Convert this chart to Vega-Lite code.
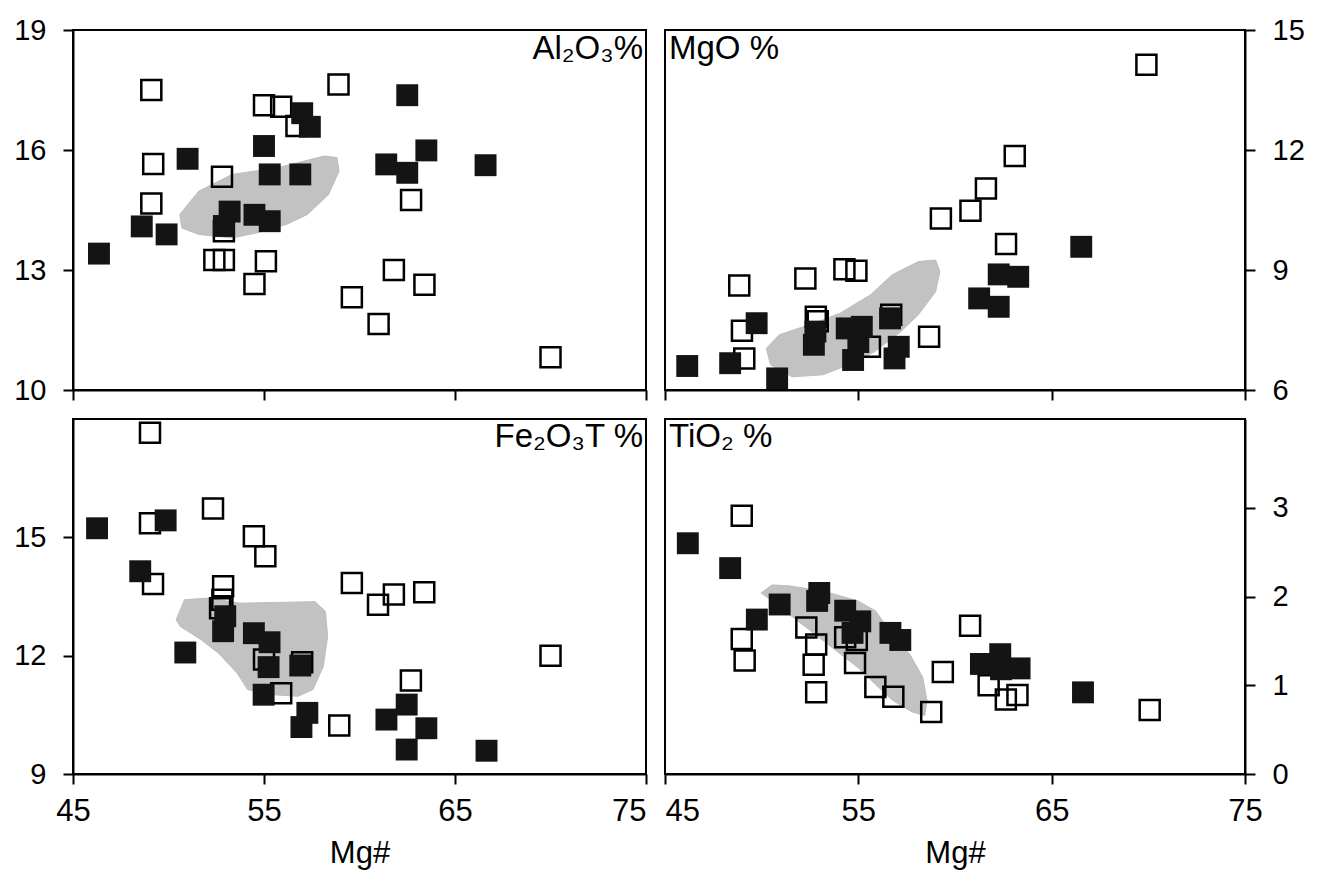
{
  "$schema": "https://vega.github.io/schema/vega-lite/v6.json",
  "background": "white",
  "padding": {"left": 12, "top": 15, "right": 5, "bottom": 5},
  "datasets": {
    "labels": [
      {"panel": "Al", "label": "Al₂O₃%"},
      {"panel": "Mg", "label": "MgO %"},
      {"panel": "Fe", "label": "Fe₂O₃T %"},
      {"panel": "Ti", "label": "TiO₂ %"}
    ],
    "pts": [
      {"panel": "Al", "type": "open", "mg": 49.1, "val": 17.5},
      {"panel": "Al", "type": "open", "mg": 49.2, "val": 15.65},
      {"panel": "Al", "type": "open", "mg": 49.1, "val": 14.66},
      {"panel": "Al", "type": "open", "mg": 52.8, "val": 15.33},
      {"panel": "Al", "type": "open", "mg": 52.9, "val": 13.97},
      {"panel": "Al", "type": "open", "mg": 52.4, "val": 13.25},
      {"panel": "Al", "type": "open", "mg": 52.9, "val": 13.25},
      {"panel": "Al", "type": "open", "mg": 55.1, "val": 13.22},
      {"panel": "Al", "type": "open", "mg": 54.5, "val": 12.65},
      {"panel": "Al", "type": "open", "mg": 55.0, "val": 17.12},
      {"panel": "Al", "type": "open", "mg": 55.9, "val": 17.08},
      {"panel": "Al", "type": "open", "mg": 56.7, "val": 16.6},
      {"panel": "Al", "type": "open", "mg": 58.9, "val": 17.64},
      {"panel": "Al", "type": "open", "mg": 62.7, "val": 14.75},
      {"panel": "Al", "type": "open", "mg": 61.8, "val": 13.0},
      {"panel": "Al", "type": "open", "mg": 63.4, "val": 12.63},
      {"panel": "Al", "type": "open", "mg": 59.6, "val": 12.32},
      {"panel": "Al", "type": "open", "mg": 61.0, "val": 11.65},
      {"panel": "Al", "type": "open", "mg": 70.0, "val": 10.82},
      {"panel": "Al", "type": "filled", "mg": 46.36, "val": 13.41},
      {"panel": "Al", "type": "filled", "mg": 48.6, "val": 14.09},
      {"panel": "Al", "type": "filled", "mg": 49.9, "val": 13.89},
      {"panel": "Al", "type": "filled", "mg": 51.0, "val": 15.78},
      {"panel": "Al", "type": "filled", "mg": 55.0, "val": 16.1},
      {"panel": "Al", "type": "filled", "mg": 55.3, "val": 15.39},
      {"panel": "Al", "type": "filled", "mg": 56.9, "val": 15.39},
      {"panel": "Al", "type": "filled", "mg": 57.0, "val": 16.92},
      {"panel": "Al", "type": "filled", "mg": 57.4, "val": 16.58},
      {"panel": "Al", "type": "filled", "mg": 53.2, "val": 14.46},
      {"panel": "Al", "type": "filled", "mg": 52.9, "val": 14.1},
      {"panel": "Al", "type": "filled", "mg": 54.5, "val": 14.38},
      {"panel": "Al", "type": "filled", "mg": 55.3, "val": 14.22},
      {"panel": "Al", "type": "filled", "mg": 62.5, "val": 17.37},
      {"panel": "Al", "type": "filled", "mg": 61.4, "val": 15.64},
      {"panel": "Al", "type": "filled", "mg": 62.5, "val": 15.43},
      {"panel": "Al", "type": "filled", "mg": 63.5, "val": 15.99},
      {"panel": "Al", "type": "filled", "mg": 66.6, "val": 15.62},

      {"panel": "Mg", "type": "open", "mg": 69.9, "val": 14.13},
      {"panel": "Mg", "type": "open", "mg": 63.09, "val": 11.85},
      {"panel": "Mg", "type": "open", "mg": 61.6, "val": 11.04},
      {"panel": "Mg", "type": "open", "mg": 60.8, "val": 10.48},
      {"panel": "Mg", "type": "open", "mg": 59.27, "val": 10.29},
      {"panel": "Mg", "type": "open", "mg": 62.64, "val": 9.65},
      {"panel": "Mg", "type": "open", "mg": 54.28, "val": 9.02},
      {"panel": "Mg", "type": "open", "mg": 54.9, "val": 8.98},
      {"panel": "Mg", "type": "open", "mg": 52.26, "val": 8.79},
      {"panel": "Mg", "type": "open", "mg": 48.84, "val": 8.61},
      {"panel": "Mg", "type": "open", "mg": 48.98, "val": 7.48},
      {"panel": "Mg", "type": "open", "mg": 49.1, "val": 6.79},
      {"panel": "Mg", "type": "open", "mg": 52.8, "val": 7.83},
      {"panel": "Mg", "type": "open", "mg": 52.9, "val": 7.72},
      {"panel": "Mg", "type": "open", "mg": 56.7, "val": 7.88},
      {"panel": "Mg", "type": "open", "mg": 58.66, "val": 7.33},
      {"panel": "Mg", "type": "open", "mg": 55.6, "val": 7.08},
      {"panel": "Mg", "type": "filled", "mg": 46.15, "val": 6.6},
      {"panel": "Mg", "type": "filled", "mg": 48.37, "val": 6.67},
      {"panel": "Mg", "type": "filled", "mg": 50.8, "val": 6.29},
      {"panel": "Mg", "type": "filled", "mg": 49.74, "val": 7.67},
      {"panel": "Mg", "type": "filled", "mg": 52.78, "val": 7.46},
      {"panel": "Mg", "type": "filled", "mg": 52.7, "val": 7.13},
      {"panel": "Mg", "type": "filled", "mg": 54.4, "val": 7.54},
      {"panel": "Mg", "type": "filled", "mg": 55.18, "val": 7.58},
      {"panel": "Mg", "type": "filled", "mg": 54.73, "val": 6.75},
      {"panel": "Mg", "type": "filled", "mg": 55.0, "val": 7.2},
      {"panel": "Mg", "type": "filled", "mg": 56.64, "val": 7.79},
      {"panel": "Mg", "type": "filled", "mg": 57.09, "val": 7.08},
      {"panel": "Mg", "type": "filled", "mg": 56.87, "val": 6.79},
      {"panel": "Mg", "type": "filled", "mg": 61.25, "val": 8.29},
      {"panel": "Mg", "type": "filled", "mg": 62.26, "val": 8.08},
      {"panel": "Mg", "type": "filled", "mg": 62.26, "val": 8.89},
      {"panel": "Mg", "type": "filled", "mg": 63.27, "val": 8.83},
      {"panel": "Mg", "type": "filled", "mg": 66.53, "val": 9.58},

      {"panel": "Fe", "type": "open", "mg": 49.03, "val": 17.65},
      {"panel": "Fe", "type": "open", "mg": 52.33, "val": 15.73},
      {"panel": "Fe", "type": "open", "mg": 49.03, "val": 15.36},
      {"panel": "Fe", "type": "open", "mg": 54.47, "val": 15.03},
      {"panel": "Fe", "type": "open", "mg": 55.07, "val": 14.52},
      {"panel": "Fe", "type": "open", "mg": 49.19, "val": 13.82},
      {"panel": "Fe", "type": "open", "mg": 52.86, "val": 13.76},
      {"panel": "Fe", "type": "open", "mg": 52.82, "val": 13.42},
      {"panel": "Fe", "type": "open", "mg": 52.7, "val": 13.2},
      {"panel": "Fe", "type": "open", "mg": 59.6, "val": 13.84},
      {"panel": "Fe", "type": "open", "mg": 61.8, "val": 13.55},
      {"panel": "Fe", "type": "open", "mg": 60.97, "val": 13.29},
      {"panel": "Fe", "type": "open", "mg": 63.39, "val": 13.61},
      {"panel": "Fe", "type": "open", "mg": 70.0, "val": 12.0},
      {"panel": "Fe", "type": "open", "mg": 62.69, "val": 11.37},
      {"panel": "Fe", "type": "open", "mg": 58.94, "val": 10.23},
      {"panel": "Fe", "type": "open", "mg": 55.9, "val": 11.05},
      {"panel": "Fe", "type": "open", "mg": 57.0, "val": 11.83},
      {"panel": "Fe", "type": "open", "mg": 55.0, "val": 11.9},
      {"panel": "Fe", "type": "filled", "mg": 46.26, "val": 15.23},
      {"panel": "Fe", "type": "filled", "mg": 49.85, "val": 15.43},
      {"panel": "Fe", "type": "filled", "mg": 48.52, "val": 14.14},
      {"panel": "Fe", "type": "filled", "mg": 50.88, "val": 12.08},
      {"panel": "Fe", "type": "filled", "mg": 52.97, "val": 13.0},
      {"panel": "Fe", "type": "filled", "mg": 52.86, "val": 12.62},
      {"panel": "Fe", "type": "filled", "mg": 54.47, "val": 12.57},
      {"panel": "Fe", "type": "filled", "mg": 55.29, "val": 12.34},
      {"panel": "Fe", "type": "filled", "mg": 55.24, "val": 11.71},
      {"panel": "Fe", "type": "filled", "mg": 54.98, "val": 11.01},
      {"panel": "Fe", "type": "filled", "mg": 56.9, "val": 11.75},
      {"panel": "Fe", "type": "filled", "mg": 57.27, "val": 10.55},
      {"panel": "Fe", "type": "filled", "mg": 56.96, "val": 10.19},
      {"panel": "Fe", "type": "filled", "mg": 61.41, "val": 10.38},
      {"panel": "Fe", "type": "filled", "mg": 62.47, "val": 10.76},
      {"panel": "Fe", "type": "filled", "mg": 63.5, "val": 10.16},
      {"panel": "Fe", "type": "filled", "mg": 62.47, "val": 9.62},
      {"panel": "Fe", "type": "filled", "mg": 66.65, "val": 9.59},

      {"panel": "Ti", "type": "open", "mg": 48.97, "val": 2.91},
      {"panel": "Ti", "type": "open", "mg": 48.97, "val": 1.52},
      {"panel": "Ti", "type": "open", "mg": 49.12, "val": 1.28},
      {"panel": "Ti", "type": "open", "mg": 52.31, "val": 1.65},
      {"panel": "Ti", "type": "open", "mg": 52.82, "val": 1.46},
      {"panel": "Ti", "type": "open", "mg": 52.69, "val": 1.23},
      {"panel": "Ti", "type": "open", "mg": 52.82, "val": 0.92},
      {"panel": "Ti", "type": "open", "mg": 54.32, "val": 1.54},
      {"panel": "Ti", "type": "open", "mg": 54.92, "val": 1.51},
      {"panel": "Ti", "type": "open", "mg": 54.83, "val": 1.25},
      {"panel": "Ti", "type": "open", "mg": 55.88, "val": 0.98},
      {"panel": "Ti", "type": "open", "mg": 56.81, "val": 0.87},
      {"panel": "Ti", "type": "open", "mg": 58.77, "val": 0.7},
      {"panel": "Ti", "type": "open", "mg": 59.37, "val": 1.15},
      {"panel": "Ti", "type": "open", "mg": 60.78, "val": 1.67},
      {"panel": "Ti", "type": "open", "mg": 61.74, "val": 1.0},
      {"panel": "Ti", "type": "open", "mg": 62.63, "val": 0.84},
      {"panel": "Ti", "type": "open", "mg": 63.23, "val": 0.89},
      {"panel": "Ti", "type": "open", "mg": 70.07, "val": 0.72},
      {"panel": "Ti", "type": "filled", "mg": 46.18, "val": 2.6},
      {"panel": "Ti", "type": "filled", "mg": 48.37, "val": 2.32},
      {"panel": "Ti", "type": "filled", "mg": 49.75, "val": 1.74},
      {"panel": "Ti", "type": "filled", "mg": 50.93, "val": 1.91},
      {"panel": "Ti", "type": "filled", "mg": 52.87, "val": 1.95},
      {"panel": "Ti", "type": "filled", "mg": 52.98, "val": 2.04},
      {"panel": "Ti", "type": "filled", "mg": 54.32, "val": 1.84},
      {"panel": "Ti", "type": "filled", "mg": 55.1, "val": 1.72},
      {"panel": "Ti", "type": "filled", "mg": 54.7, "val": 1.59},
      {"panel": "Ti", "type": "filled", "mg": 56.66, "val": 1.59},
      {"panel": "Ti", "type": "filled", "mg": 57.17, "val": 1.51},
      {"panel": "Ti", "type": "filled", "mg": 61.34, "val": 1.24},
      {"panel": "Ti", "type": "filled", "mg": 62.34, "val": 1.35},
      {"panel": "Ti", "type": "filled", "mg": 62.38, "val": 1.18},
      {"panel": "Ti", "type": "filled", "mg": 63.34, "val": 1.19},
      {"panel": "Ti", "type": "filled", "mg": 66.62, "val": 0.92}
    ],
    "blob": [
      {"panel": "Al", "i": 0, "mg": 50.59, "val": 14.39},
      {"panel": "Al", "i": 1, "mg": 51.58, "val": 14.97},
      {"panel": "Al", "i": 2, "mg": 53.33, "val": 15.39},
      {"panel": "Al", "i": 3, "mg": 55.75, "val": 15.56},
      {"panel": "Al", "i": 4, "mg": 58.16, "val": 15.85},
      {"panel": "Al", "i": 5, "mg": 58.82, "val": 15.81},
      {"panel": "Al", "i": 6, "mg": 58.93, "val": 15.47},
      {"panel": "Al", "i": 7, "mg": 58.38, "val": 14.89},
      {"panel": "Al", "i": 8, "mg": 57.28, "val": 14.39},
      {"panel": "Al", "i": 9, "mg": 56.18, "val": 14.14},
      {"panel": "Al", "i": 10, "mg": 54.65, "val": 13.93},
      {"panel": "Al", "i": 11, "mg": 53.33, "val": 13.8},
      {"panel": "Al", "i": 12, "mg": 51.58, "val": 13.89},
      {"panel": "Al", "i": 13, "mg": 50.7, "val": 14.05},

      {"panel": "Mg", "i": 0, "mg": 50.24, "val": 7.04},
      {"panel": "Mg", "i": 1, "mg": 50.91, "val": 7.38},
      {"panel": "Mg", "i": 2, "mg": 52.71, "val": 7.67},
      {"panel": "Mg", "i": 3, "mg": 54.06, "val": 7.92},
      {"panel": "Mg", "i": 4, "mg": 55.63, "val": 8.38},
      {"panel": "Mg", "i": 5, "mg": 56.75, "val": 8.88},
      {"panel": "Mg", "i": 6, "mg": 58.1, "val": 9.21},
      {"panel": "Mg", "i": 7, "mg": 59.0, "val": 9.25},
      {"panel": "Mg", "i": 8, "mg": 59.22, "val": 8.96},
      {"panel": "Mg", "i": 9, "mg": 59.0, "val": 8.46},
      {"panel": "Mg", "i": 10, "mg": 58.1, "val": 7.88},
      {"panel": "Mg", "i": 11, "mg": 57.2, "val": 7.46},
      {"panel": "Mg", "i": 12, "mg": 55.85, "val": 6.96},
      {"panel": "Mg", "i": 13, "mg": 54.51, "val": 6.63},
      {"panel": "Mg", "i": 14, "mg": 53.16, "val": 6.38},
      {"panel": "Mg", "i": 15, "mg": 51.58, "val": 6.33},
      {"panel": "Mg", "i": 16, "mg": 50.46, "val": 6.63},

      {"panel": "Fe", "i": 0, "mg": 50.4, "val": 12.91},
      {"panel": "Fe", "i": 1, "mg": 50.84, "val": 13.42},
      {"panel": "Fe", "i": 2, "mg": 52.16, "val": 13.46},
      {"panel": "Fe", "i": 3, "mg": 53.7, "val": 13.33},
      {"panel": "Fe", "i": 4, "mg": 57.67, "val": 13.37},
      {"panel": "Fe", "i": 5, "mg": 58.22, "val": 13.12},
      {"panel": "Fe", "i": 6, "mg": 58.33, "val": 12.49},
      {"panel": "Fe", "i": 7, "mg": 58.11, "val": 11.73},
      {"panel": "Fe", "i": 8, "mg": 57.56, "val": 11.14},
      {"panel": "Fe", "i": 9, "mg": 56.78, "val": 10.97},
      {"panel": "Fe", "i": 10, "mg": 55.46, "val": 11.01},
      {"panel": "Fe", "i": 11, "mg": 54.14, "val": 11.14},
      {"panel": "Fe", "i": 12, "mg": 53.59, "val": 11.56},
      {"panel": "Fe", "i": 13, "mg": 52.6, "val": 12.07},
      {"panel": "Fe", "i": 14, "mg": 51.72, "val": 12.4},
      {"panel": "Fe", "i": 15, "mg": 50.62, "val": 12.74},

      {"panel": "Ti", "i": 0, "mg": 49.97, "val": 2.04},
      {"panel": "Ti", "i": 1, "mg": 50.53, "val": 2.13},
      {"panel": "Ti", "i": 2, "mg": 51.42, "val": 2.12},
      {"panel": "Ti", "i": 3, "mg": 53.2, "val": 2.06},
      {"panel": "Ti", "i": 4, "mg": 54.98, "val": 1.95},
      {"panel": "Ti", "i": 5, "mg": 55.88, "val": 1.84},
      {"panel": "Ti", "i": 6, "mg": 56.77, "val": 1.57},
      {"panel": "Ti", "i": 7, "mg": 57.66, "val": 1.35},
      {"panel": "Ti", "i": 8, "mg": 58.33, "val": 1.09},
      {"panel": "Ti", "i": 9, "mg": 58.55, "val": 0.83},
      {"panel": "Ti", "i": 10, "mg": 58.44, "val": 0.66},
      {"panel": "Ti", "i": 11, "mg": 57.77, "val": 0.7},
      {"panel": "Ti", "i": 12, "mg": 56.77, "val": 0.83},
      {"panel": "Ti", "i": 13, "mg": 55.88, "val": 1.01},
      {"panel": "Ti", "i": 14, "mg": 54.98, "val": 1.2},
      {"panel": "Ti", "i": 15, "mg": 54.09, "val": 1.35},
      {"panel": "Ti", "i": 16, "mg": 53.2, "val": 1.5},
      {"panel": "Ti", "i": 17, "mg": 52.31, "val": 1.65},
      {"panel": "Ti", "i": 18, "mg": 51.42, "val": 1.8},
      {"panel": "Ti", "i": 19, "mg": 50.53, "val": 1.95}
    ]
  },
  "spacing": 10,
  "vconcat": [
    {
      "spacing": 19,
      "bounds": "flush",
      "hconcat": [
        {
          "width": 573, "height": 360,
          "layer": [
            {"data": {"name": "blob"}, "transform": [{"filter": "datum.panel == 'Al'"}], "mark": {"type": "line", "interpolate": "linear-closed", "fill": "#c2c2c2", "stroke": "#bdbdbd", "strokeWidth": 1},
             "encoding": {
               "x": {"field": "mg", "type": "quantitative", "scale": {"domain": [45, 75], "nice": false, "zero": false}, "axis": {"values": [45, 55, 65, 75], "labels": false, "title": null}},
               "y": {"field": "val", "type": "quantitative", "scale": {"domain": [10, 19], "nice": false, "zero": false}, "axis": {"values": [10, 13, 16, 19], "title": null, "format": "d"}},
               "order": {"field": "i", "type": "quantitative"}}},
            {"data": {"name": "pts"}, "transform": [{"filter": "datum.panel == 'Al' && datum.type == 'open'"}], "mark": {"type": "point", "shape": "square", "size": 400, "filled": false, "stroke": "black", "strokeWidth": 2.5, "opacity": 1},
             "encoding": {"x": {"field": "mg", "type": "quantitative", "scale": {"domain": [45, 75]}}, "y": {"field": "val", "type": "quantitative", "scale": {"domain": [10, 19]}}}},
            {"data": {"name": "pts"}, "transform": [{"filter": "datum.panel == 'Al' && datum.type == 'filled'"}], "mark": {"type": "square", "size": 480, "color": "#141414", "opacity": 1},
             "encoding": {"x": {"field": "mg", "type": "quantitative", "scale": {"domain": [45, 75]}}, "y": {"field": "val", "type": "quantitative", "scale": {"domain": [10, 19]}}}},
            {"data": {"name": "labels"}, "transform": [{"filter": "datum.panel == 'Al'"}], "mark": {"type": "text", "align": "right", "baseline": "top", "fontSize": 33, "font": "Liberation Sans", "dx": -3, "dy": 3, "color": "black"},
             "encoding": {"x": {"datum": 75, "type": "quantitative"}, "y": {"datum": 19, "type": "quantitative"}, "text": {"field": "label", "type": "nominal"}}}
          ]
        },
        {
          "width": 580, "height": 360,
          "layer": [
            {"data": {"name": "blob"}, "transform": [{"filter": "datum.panel == 'Mg'"}], "mark": {"type": "line", "interpolate": "linear-closed", "fill": "#c2c2c2", "stroke": "#bdbdbd", "strokeWidth": 1},
             "encoding": {
               "x": {"field": "mg", "type": "quantitative", "scale": {"domain": [45, 75], "nice": false, "zero": false}, "axis": {"values": [45, 55, 65, 75], "labels": false, "title": null}},
               "y": {"field": "val", "type": "quantitative", "scale": {"domain": [6, 15], "nice": false, "zero": false}, "axis": {"values": [6, 9, 12, 15], "title": null, "orient": "right", "format": "d"}},
               "order": {"field": "i", "type": "quantitative"}}},
            {"data": {"name": "pts"}, "transform": [{"filter": "datum.panel == 'Mg' && datum.type == 'open'"}], "mark": {"type": "point", "shape": "square", "size": 400, "filled": false, "stroke": "black", "strokeWidth": 2.5, "opacity": 1},
             "encoding": {"x": {"field": "mg", "type": "quantitative", "scale": {"domain": [45, 75]}}, "y": {"field": "val", "type": "quantitative", "scale": {"domain": [6, 15]}}}},
            {"data": {"name": "pts"}, "transform": [{"filter": "datum.panel == 'Mg' && datum.type == 'filled'"}], "mark": {"type": "square", "size": 480, "color": "#141414", "opacity": 1},
             "encoding": {"x": {"field": "mg", "type": "quantitative", "scale": {"domain": [45, 75]}}, "y": {"field": "val", "type": "quantitative", "scale": {"domain": [6, 15]}}}},
            {"data": {"name": "labels"}, "transform": [{"filter": "datum.panel == 'Mg'"}], "mark": {"type": "text", "align": "left", "baseline": "top", "fontSize": 33, "font": "Liberation Sans", "dx": 4, "dy": 3, "color": "black"},
             "encoding": {"x": {"datum": 45, "type": "quantitative"}, "y": {"datum": 15, "type": "quantitative"}, "text": {"field": "label", "type": "nominal"}}}
          ]
        }
      ]
    },
    {
      "spacing": 19,
      "bounds": "flush",
      "hconcat": [
        {
          "width": 573, "height": 355,
          "layer": [
            {"data": {"name": "blob"}, "transform": [{"filter": "datum.panel == 'Fe'"}], "mark": {"type": "line", "interpolate": "linear-closed", "fill": "#c2c2c2", "stroke": "#bdbdbd", "strokeWidth": 1},
             "encoding": {
               "x": {"field": "mg", "type": "quantitative", "scale": {"domain": [45, 75], "nice": false, "zero": false}, "axis": {"values": [45, 55, 65, 75], "title": "Mg#", "labelFontSize": 31, "labelAlign": {"condition": {"test": "datum.value == 75", "value": "right"}, "value": "center"}}},
               "y": {"field": "val", "type": "quantitative", "scale": {"domain": [9, 18], "nice": false, "zero": false}, "axis": {"values": [9, 12, 15], "title": null, "format": "d"}},
               "order": {"field": "i", "type": "quantitative"}}},
            {"data": {"name": "pts"}, "transform": [{"filter": "datum.panel == 'Fe' && datum.type == 'open'"}], "mark": {"type": "point", "shape": "square", "size": 400, "filled": false, "stroke": "black", "strokeWidth": 2.5, "opacity": 1},
             "encoding": {"x": {"field": "mg", "type": "quantitative", "scale": {"domain": [45, 75]}}, "y": {"field": "val", "type": "quantitative", "scale": {"domain": [9, 18]}}}},
            {"data": {"name": "pts"}, "transform": [{"filter": "datum.panel == 'Fe' && datum.type == 'filled'"}], "mark": {"type": "square", "size": 480, "color": "#141414", "opacity": 1},
             "encoding": {"x": {"field": "mg", "type": "quantitative", "scale": {"domain": [45, 75]}}, "y": {"field": "val", "type": "quantitative", "scale": {"domain": [9, 18]}}}},
            {"data": {"name": "labels"}, "transform": [{"filter": "datum.panel == 'Fe'"}], "mark": {"type": "text", "align": "right", "baseline": "top", "fontSize": 33, "font": "Liberation Sans", "dx": -3, "dy": 2, "color": "black"},
             "encoding": {"x": {"datum": 75, "type": "quantitative"}, "y": {"datum": 18, "type": "quantitative"}, "text": {"field": "label", "type": "nominal"}}}
          ]
        },
        {
          "width": 580, "height": 355,
          "layer": [
            {"data": {"name": "blob"}, "transform": [{"filter": "datum.panel == 'Ti'"}], "mark": {"type": "line", "interpolate": "linear-closed", "fill": "#c2c2c2", "stroke": "#bdbdbd", "strokeWidth": 1},
             "encoding": {
               "x": {"field": "mg", "type": "quantitative", "scale": {"domain": [45, 75], "nice": false, "zero": false}, "axis": {"values": [45, 55, 65, 75], "title": "Mg#", "labelFontSize": 31, "labelAlign": {"condition": {"test": "datum.value == 45", "value": "left"}, "value": "center"}}},
               "y": {"field": "val", "type": "quantitative", "scale": {"domain": [0, 4], "nice": false, "zero": false}, "axis": {"values": [0, 1, 2, 3], "title": null, "orient": "right", "format": "d"}},
               "order": {"field": "i", "type": "quantitative"}}},
            {"data": {"name": "pts"}, "transform": [{"filter": "datum.panel == 'Ti' && datum.type == 'open'"}], "mark": {"type": "point", "shape": "square", "size": 400, "filled": false, "stroke": "black", "strokeWidth": 2.5, "opacity": 1},
             "encoding": {"x": {"field": "mg", "type": "quantitative", "scale": {"domain": [45, 75]}}, "y": {"field": "val", "type": "quantitative", "scale": {"domain": [0, 4]}}}},
            {"data": {"name": "pts"}, "transform": [{"filter": "datum.panel == 'Ti' && datum.type == 'filled'"}], "mark": {"type": "square", "size": 480, "color": "#141414", "opacity": 1},
             "encoding": {"x": {"field": "mg", "type": "quantitative", "scale": {"domain": [45, 75]}}, "y": {"field": "val", "type": "quantitative", "scale": {"domain": [0, 4]}}}},
            {"data": {"name": "labels"}, "transform": [{"filter": "datum.panel == 'Ti'"}], "mark": {"type": "text", "align": "left", "baseline": "top", "fontSize": 33, "font": "Liberation Sans", "dx": 4, "dy": 2, "color": "black"},
             "encoding": {"x": {"datum": 45, "type": "quantitative"}, "y": {"datum": 4, "type": "quantitative"}, "text": {"field": "label", "type": "nominal"}}}
          ]
        }
      ]
    }
  ],
  "config": {
    "font": "Liberation Sans",
    "view": {"stroke": "black", "strokeWidth": 2},
    "axis": {
      "domainColor": "black", "domainWidth": 2,
      "tickColor": "black", "tickWidth": 2, "tickSize": 10,
      "labelFont": "Liberation Sans", "labelFontSize": 29, "labelColor": "black", "labelPadding": 12, "labelFlush": false, "labelOverlap": false,
      "titleFont": "Liberation Sans", "titleFontSize": 31, "titleFontWeight": "normal", "titleColor": "black", "titlePadding": 12,
      "grid": false
    },
    "axisY": {"labelPadding": 17}
  }
}
